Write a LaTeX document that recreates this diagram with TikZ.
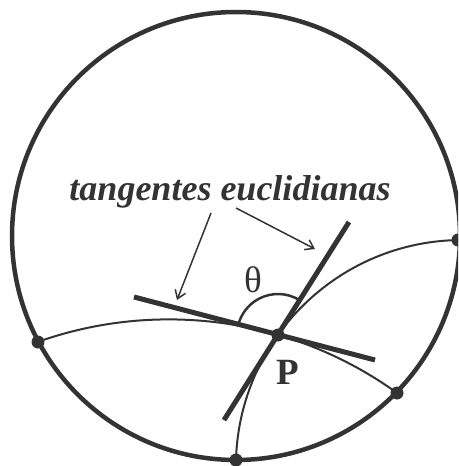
\documentclass[tikz,border=0pt]{standalone}
\usepackage{fontspec}
\setmainfont{Liberation Serif}
\usepackage{tikz}
\usetikzlibrary{arrows.meta,angles,calc}
\definecolor{ink}{HTML}{333333}

\begin{document}
\begin{tikzpicture}[x=1pt,y=1pt,color=ink]

\clip (0,0) rectangle (458,-466);

\coordinate (O) at (236,-236);
\coordinate (P) at (278,-335);
\coordinate (A) at (38,-342);
\coordinate (B) at (458,-240);
\coordinate (C) at (236,-460);
\coordinate (D) at (397,-393);

% Disk
\draw[line width=4.5pt] (O) circle (224pt);

% Geodesics through P
\begin{scope}
\clip (O) circle (224pt);
\draw[line width=2pt] (168.8,-710) circle (390.6pt);
\draw[line width=2pt] (462.4,-466.5) circle (226.5pt);
\end{scope}

% Euclidean tangents
\coordinate (t1a) at (134,-297);
\coordinate (t1b) at (375,-360);
\coordinate (t2a) at (224,-420);
\coordinate (t2b) at (349,-222);
\draw[line width=5pt] (t1a)--(t1b);
\draw[line width=5pt] (t2a)--(t2b);

\pic [draw, line width=2.5pt, angle radius=41pt]
{angle = t2b--P--t1a};

% Points
\foreach \p in {A,B,C,D,P}
  \fill (\p) circle (6.5pt);

% Labels
\node (lbl) at (230,-192) {\fontsize{36}{40}\selectfont\bfseries\itshape tangentes euclidianas};
\node (theta) at (253,-280) {\fontsize{37}{40}\selectfont θ};
\node (plabel) at (288,-372) {\fontsize{37}{40}\selectfont\bfseries P};

\coordinate (e1) at (177,-300);
\coordinate (e2) at (315,-249);
\draw[line width=1.5pt, -{Straight Barb[length=8pt,width=11pt]}] (211,-213)--(e1);
\draw[line width=1.5pt, -{Straight Barb[length=8pt,width=11pt]}] (236,-208)--(e2);

\end{tikzpicture}
\end{document}
